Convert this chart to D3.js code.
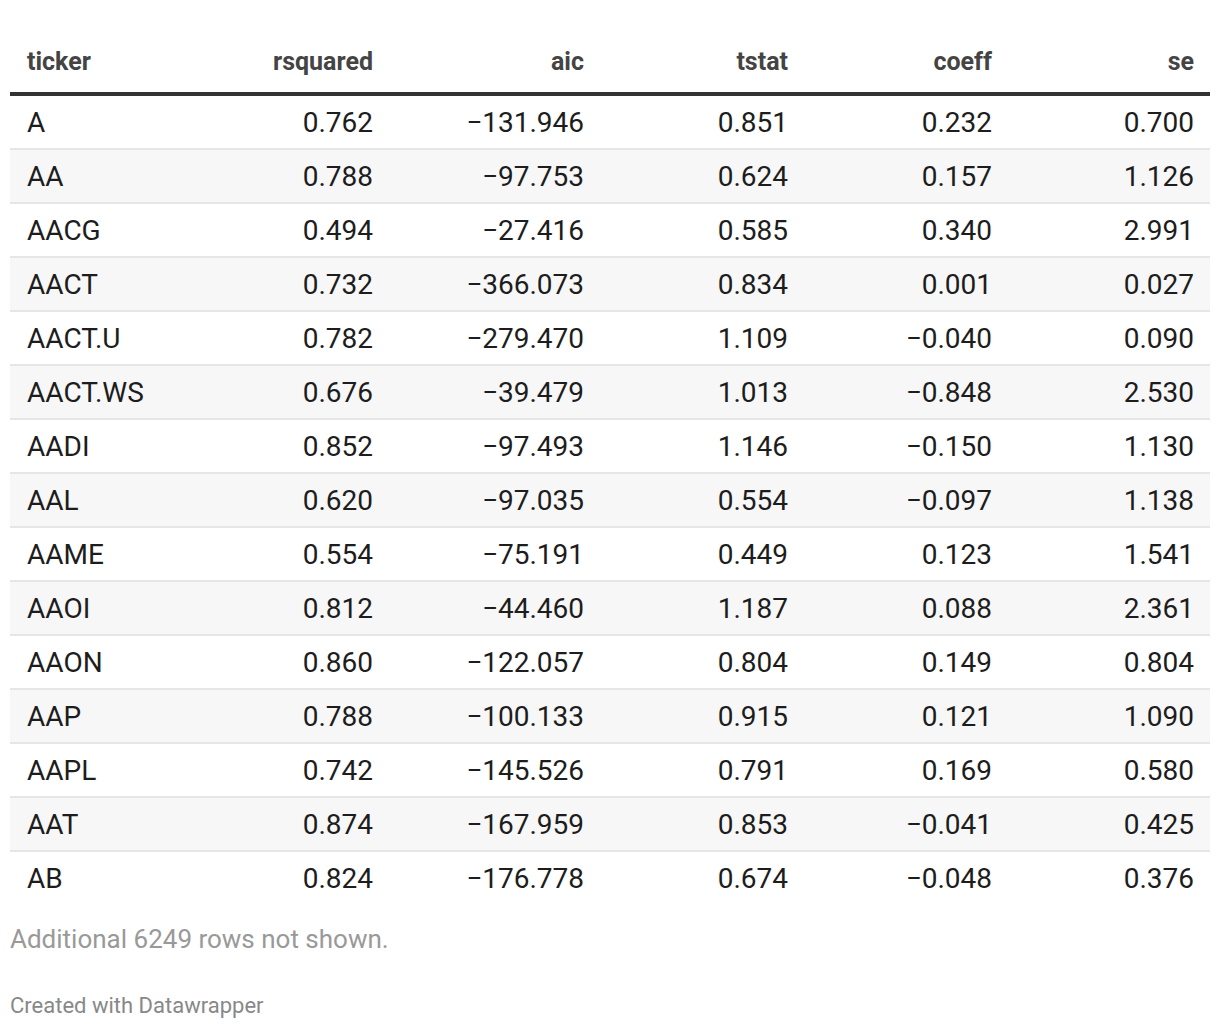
<!DOCTYPE html>
<html>
<head>
<meta charset="utf-8">
<script src="https://cdn.jsdelivr.net/npm/d3@7"></script>
<style>
  body { margin: 0; background: #fff; font-family: Roboto, "Noto Sans", sans-serif; }
</style>
</head>
<body>
<div id="chart"></div>
<script>
const columns = ["ticker", "rsquared", "aic", "tstat", "coeff", "se"];
const tickers = ["A", "AA", "AACG", "AACT", "AACT.U", "AACT.WS", "AADI", "AAL", "AAME", "AAOI", "AAON", "AAP", "AAPL", "AAT", "AB"];
const rsquared = [0.762, 0.788, 0.494, 0.732, 0.782, 0.676, 0.852, 0.620, 0.554, 0.812, 0.860, 0.788, 0.742, 0.874, 0.824];
const aic = [-131.946, -97.753, -27.416, -366.073, -279.470, -39.479, -97.493, -97.035, -75.191, -44.460, -122.057, -100.133, -145.526, -167.959, -176.778];
const tstat = [0.851, 0.624, 0.585, 0.834, 1.109, 1.013, 1.146, 0.554, 0.449, 1.187, 0.804, 0.915, 0.791, 0.853, 0.674];
const coeff = [0.232, 0.157, 0.340, 0.001, -0.040, -0.848, -0.150, -0.097, 0.123, 0.088, 0.149, 0.121, 0.169, -0.041, -0.048];
const se = [0.700, 1.126, 2.991, 0.027, 0.090, 2.530, 1.130, 1.138, 1.541, 2.361, 0.804, 1.090, 0.580, 0.425, 0.376];
const hiddenRows = 6249;

const data = tickers.map((t, i) => ({
  ticker: t,
  rsquared: rsquared[i],
  aic: aic[i],
  tstat: tstat[i],
  coeff: coeff[i],
  se: se[i]
}));

const width = 1220;
const height = 1030;
const tableLeft = 10;
const tableRight = 1210;
const headerBottom = 96;
const rowHeight = 54;
const fmt = d3.format(".3f");

// text anchor for each column (ticker is left aligned, numbers right aligned)
const colX = d3.scaleOrdinal()
  .domain(columns)
  .range([27, 373, 584, 788, 992, 1194]);

const yScale = d3.scaleBand()
  .domain(d3.range(data.length))
  .range([headerBottom, headerBottom + rowHeight * data.length]);

const svg = d3.select("#chart")
  .append("svg")
  .attr("width", width)
  .attr("height", height);

// header
svg.selectAll(".header")
  .data(columns)
  .enter()
  .append("text")
  .attr("class", "header")
  .attr("x", d => colX(d))
  .attr("y", 70)
  .attr("text-anchor", d => d === "ticker" ? "start" : "end")
  .attr("font-size", 25)
  .attr("font-weight", 700)
  .attr("fill", "#444")
  .text(d => d);

svg.append("rect")
  .attr("x", tableLeft)
  .attr("y", headerBottom - 4)
  .attr("width", tableRight - tableLeft)
  .attr("height", 4)
  .attr("fill", "#333");

// rows
const rows = svg.selectAll(".row")
  .data(data)
  .enter()
  .append("g")
  .attr("class", "row")
  .attr("transform", (d, i) => "translate(0," + yScale(i) + ")");

rows.append("rect")
  .attr("x", tableLeft)
  .attr("y", 0)
  .attr("width", tableRight - tableLeft)
  .attr("height", yScale.bandwidth())
  .attr("fill", (d, i) => i % 2 === 1 ? "#f7f7f7" : "#fff");

// row separators, none under the last row
rows.filter((d, i) => i < data.length - 1)
  .append("rect")
  .attr("x", tableLeft)
  .attr("y", yScale.bandwidth() - 2)
  .attr("width", tableRight - tableLeft)
  .attr("height", 2)
  .attr("fill", "#e6e6e6");

rows.selectAll(".cell")
  .data(d => columns.map(c => ({ col: c, value: d[c] })))
  .enter()
  .append("text")
  .attr("class", "cell")
  .attr("x", d => colX(d.col))
  .attr("y", yScale.bandwidth() / 2 - 1)
  .attr("dy", "0.35em")
  .attr("text-anchor", d => d.col === "ticker" ? "start" : "end")
  .attr("font-size", 28)
  .attr("fill", "#1d1d1d")
  .text(d => d.col === "ticker" ? d.value : fmt(d.value));

// notes
svg.append("text")
  .attr("x", tableLeft)
  .attr("y", 948)
  .attr("font-size", 26)
  .attr("fill", "#999")
  .text("Additional " + hiddenRows + " rows not shown.");

svg.append("text")
  .attr("x", tableLeft)
  .attr("y", 1013)
  .attr("font-size", 22)
  .attr("fill", "#888")
  .text("Created with Datawrapper");
</script>
</body>
</html>
